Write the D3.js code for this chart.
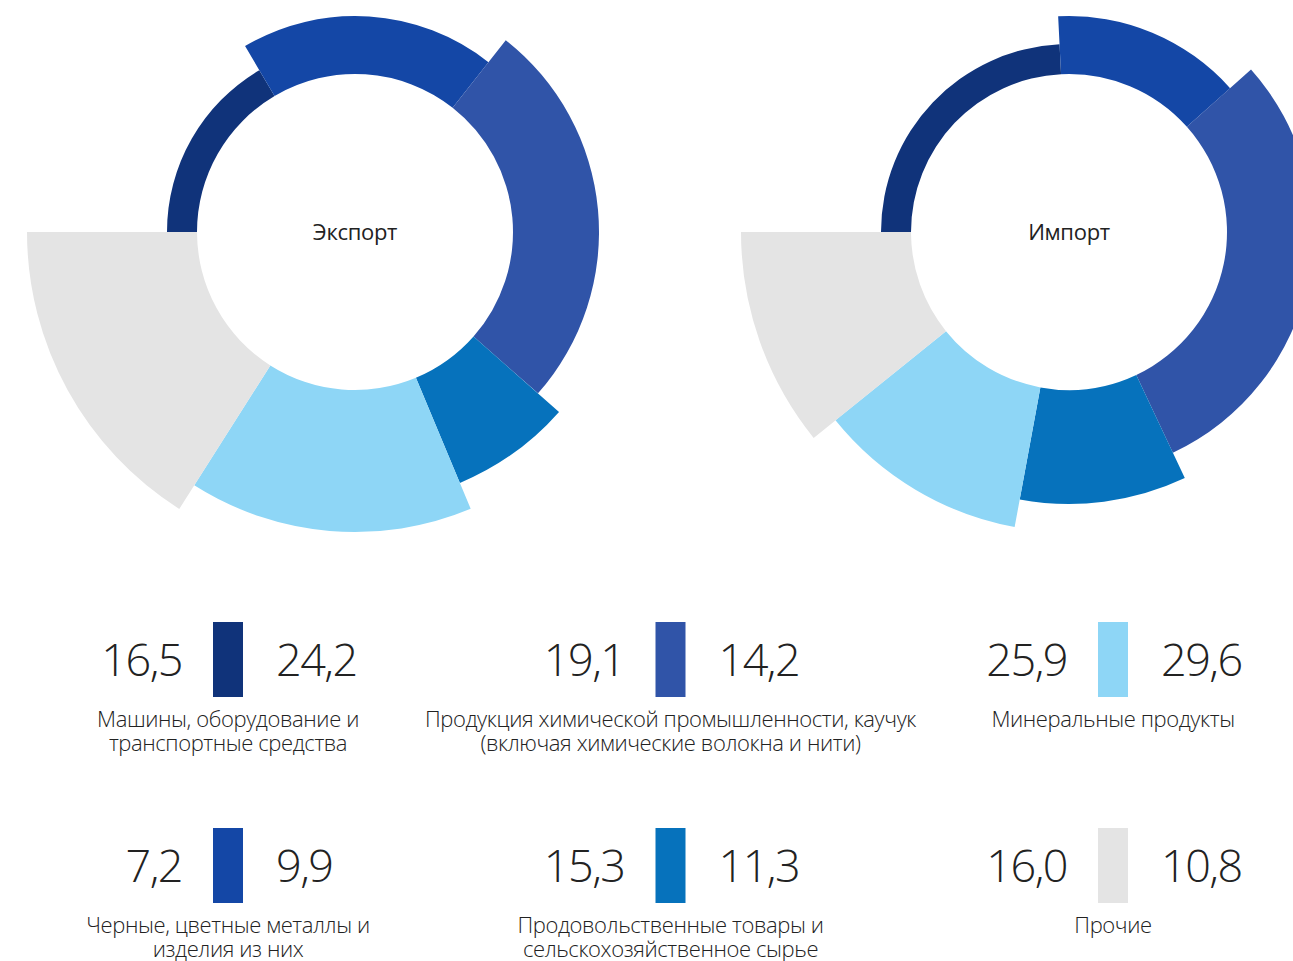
<!DOCTYPE html>
<html>
<head>
<meta charset="utf-8">
<script src="https://cdn.jsdelivr.net/npm/d3@7"></script>
<style>
  html, body { margin: 0; padding: 0; background: #fff; }
  svg { display: block; font-family: "Open Sans", "Noto Sans", sans-serif; }
</style>
</head>
<body>
<div id="chart"></div>
<script>
const categories = [
  ["Машины, оборудование и", "транспортные средства"],
  ["Продукция химической промышленности, каучук", "(включая химические волокна и нити)"],
  ["Минеральные продукты"],
  ["Черные, цветные металлы и", "изделия из них"],
  ["Продовольственные товары и", "сельскохозяйственное сырье"],
  ["Прочие"]
];
const exportShare = [16.5, 19.1, 25.9, 7.2, 15.3, 16.0];
const importShare = [24.2, 14.2, 29.6, 9.9, 11.3, 10.8];
const donutTitles = ["Экспорт", "Импорт"];

// slices are coloured by position in the ring, legend bars by category
const sliceColors = ["#10337a", "#1447a6", "#3054a8", "#0672bc", "#8ed6f6", "#e4e4e4"];
const legendColors = ["#10337a", "#3054a8", "#8ed6f6", "#1447a6", "#0672bc", "#e4e4e4"];

const width = 1293, height = 961;
const innerR = 158;
const locale = d3.formatLocale({ decimal: ",", thousands: " ", grouping: [3], currency: ["", ""] });
const fmt = locale.format(".1f");

const svg = d3.select("#chart").append("svg")
  .attr("width", width)
  .attr("height", height);

// outer radius grows with slice position
const outerR = d3.scaleLinear().domain([0, 5]).range([188, 328]);
const centerX = d3.scaleLinear().domain([0, 1]).range([355, 1069]);

const pie = d3.pie()
  .sort(null)
  .value(d => d)
  .startAngle(-Math.PI / 2)
  .endAngle(Math.PI * 1.5);

const arc = d3.arc()
  .innerRadius(innerR)
  .outerRadius(d => outerR(d.index));

[exportShare, importShare].forEach((series, k) => {
  const g = svg.append("g")
    .attr("transform", `translate(${centerX(k)},232)`);
  g.selectAll("path")
    .data(pie(series))
    .enter()
    .append("path")
    .attr("d", arc)
    .attr("fill", d => sliceColors[d.index]);
  g.append("text")
    .attr("text-anchor", "middle")
    .attr("dy", "0.35em")
    .attr("font-size", 22)
    .attr("letter-spacing", -0.3)
    .attr("fill", "#222")
    .text(donutTitles[k]);
});

// legend grid
const colX = d3.scaleLinear().domain([0, 2]).range([228, 1113]);
const rowY = d3.scaleLinear().domain([0, 1]).range([660, 866]);

const items = svg.append("g")
  .selectAll("g")
  .data(categories)
  .enter()
  .append("g")
  .attr("transform", (d, i) => `translate(${colX(i % 3)},${rowY(Math.floor(i / 3))})`);

items.append("rect")
  .attr("x", -15)
  .attr("y", -38)
  .attr("width", 30)
  .attr("height", 75)
  .attr("fill", (d, i) => legendColors[i]);

items.append("text")
  .attr("x", -46)
  .attr("y", 16)
  .attr("text-anchor", "end")
  .attr("font-size", 45)
  .attr("font-weight", 300)
  .attr("letter-spacing", -1.5)
  .attr("fill", "#222")
  .text((d, i) => fmt(exportShare[i]));

items.append("text")
  .attr("x", 48)
  .attr("y", 16)
  .attr("text-anchor", "start")
  .attr("font-size", 45)
  .attr("font-weight", 300)
  .attr("letter-spacing", -1.5)
  .attr("fill", "#222")
  .text((d, i) => fmt(importShare[i]));

items.append("text")
  .attr("text-anchor", "middle")
  .attr("font-size", 22)
  .attr("font-weight", 300)
  .attr("letter-spacing", -0.4)
  .attr("fill", "#222")
  .selectAll("tspan")
  .data(d => d)
  .enter()
  .append("tspan")
  .attr("x", 0)
  .attr("y", (d, j) => 67 + j * 24)
  .text(d => d);
</script>
</body>
</html>
